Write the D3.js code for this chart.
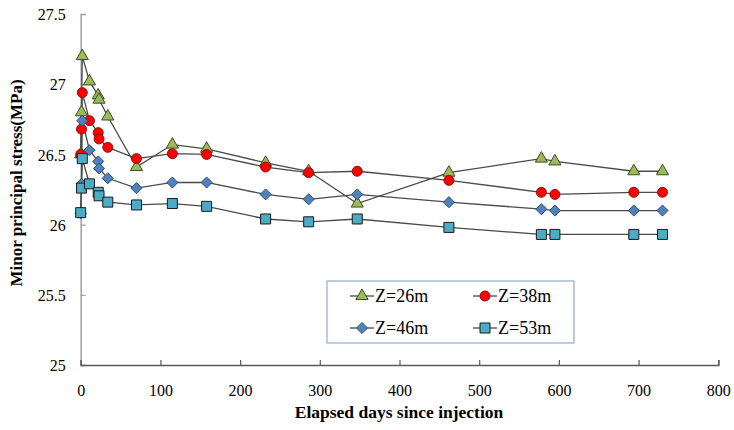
<!DOCTYPE html>
<html>
<head>
<meta charset="utf-8">
<script src="https://cdn.jsdelivr.net/npm/d3@7"></script>
<style>
  html, body { margin: 0; padding: 0; background: #ffffff; }
  svg { display: block; }
  svg text { font-family: "Liberation Serif", "Times New Roman", Times, serif; }
</style>
</head>
<body>
<svg id="chart" width="734" height="430"></svg>
<script>
// Elapsed days at each measurement
const days = [0, 1, 2, 11, 22, 23, 34, 70, 115, 158, 232, 286, 347, 462, 578, 595, 694, 730];

// Minor principal stress (MPa) at each depth
const z26 = [26.50, 26.80, 27.20, 27.02, 26.92, 26.89, 26.77, 26.41, 26.57, 26.54, 26.44, 26.38, 26.15, 26.37, 26.47, 26.45, 26.38, 26.38];
const z38 = [26.50, 26.68, 26.94, 26.74, 26.655, 26.61, 26.55, 26.47, 26.505, 26.50, 26.41, 26.37, 26.38, 26.315, 26.23, 26.215, 26.23, 26.23];
const z46 = [26.08, 26.29, 26.74, 26.53, 26.45, 26.40, 26.33, 26.26, 26.30, 26.30, 26.215, 26.18, 26.215, 26.16, 26.11, 26.10, 26.10, 26.10];
const z53 = [26.085, 26.26, 26.47, 26.29, 26.23, 26.205, 26.16, 26.14, 26.15, 26.13, 26.04, 26.02, 26.04, 25.98, 25.93, 25.93, 25.93, 25.93];

const seriesNames = ["Z=26m", "Z=38m", "Z=46m", "Z=53m"];
const xTicks = [0, 100, 200, 300, 400, 500, 600, 700, 800];
const yTicks = [25, 25.5, 26, 26.5, 27, 27.5];

const series = [
  { name: seriesNames[0], values: z26, symbol: d3.symbolTriangle, size: 64, fill: "#9bbb59", stroke: "#3f4a24" },
  { name: seriesNames[1], values: z38, symbol: d3.symbolCircle,   size: 78, fill: "#ff0000", stroke: "#8a1010" },
  { name: seriesNames[2], values: z46, symbol: d3.symbolDiamond2, size: 78, fill: "#4f81bd", stroke: "#2c4d75" },
  { name: seriesNames[3], values: z53, symbol: d3.symbolSquare,   size: 100, fill: "#4bacc6", stroke: "#1a1a1a" }
];

const serif = "'Liberation Serif', 'Times New Roman', Times, serif";
const svg = d3.select("#chart");
const plotLeft = 80.7, plotRight = 718.3, plotTop = 14, plotBottom = 365;

const x = d3.scaleLinear().domain([0, 800]).range([plotLeft, plotRight]);
const y = d3.scaleLinear().domain([25, 27.5]).range([plotBottom, plotTop]);

// Y axis: ticks point into the plot
const yAxis = svg.append("g")
  .attr("transform", `translate(${plotLeft},0)`)
  .call(d3.axisRight(y).tickValues(yTicks).tickSize(5).tickFormat(d3.format("")));
yAxis.select(".domain").attr("stroke", "#a0a0a0").attr("stroke-width", 1.5);
yAxis.selectAll(".tick line").attr("stroke", "#a0a0a0").attr("stroke-width", 1.2);
yAxis.selectAll(".tick text")
  .attr("x", -15).attr("text-anchor", "end").attr("dy", "0.35em")
  .attr("fill", "#000").style("font-size", "16px").style("font-family", serif);

// X axis: ticks point up
const xAxis = svg.append("g")
  .attr("transform", `translate(0,${plotBottom})`)
  .call(d3.axisTop(x).tickValues(xTicks).tickSize(5).tickFormat(d3.format("d")));
xAxis.select(".domain").attr("stroke", "#5a5a5a").attr("stroke-width", 1.5);
xAxis.selectAll(".tick line").attr("stroke", "#5a5a5a").attr("stroke-width", 1.2);
xAxis.selectAll(".tick text")
  .attr("y", 31).attr("dy", 0).attr("fill", "#000")
  .style("font-size", "16px").style("font-family", serif);

// Axis titles
svg.append("text")
  .attr("x", 399).attr("y", 418)
  .attr("text-anchor", "middle")
  .style("font-family", serif)
  .style("font-size", "17.5px").style("font-weight", "bold")
  .text("Elapsed days since injection");

svg.append("text")
  .attr("transform", "translate(22,183) rotate(-90)")
  .attr("text-anchor", "middle")
  .style("font-family", serif)
  .style("font-size", "17px").style("font-weight", "bold")
  .text("Minor principal stress(MPa)");

// Lines
const line = d3.line().x(d => x(d[0])).y(d => y(d[1]));
series.forEach(s => {
  const pts = days.map((d, i) => [d, s.values[i]]);
  svg.append("path")
    .datum(pts)
    .attr("d", line)
    .attr("fill", "none")
    .attr("stroke", "#4a4a4a")
    .attr("stroke-width", 1.3);
});

// Markers
series.forEach(s => {
  const sym = d3.symbol().type(s.symbol).size(s.size);
  svg.append("g").selectAll("path")
    .data(days.map((d, i) => [d, s.values[i]]))
    .join("path")
    .attr("d", sym)
    .attr("transform", d => `translate(${x(d[0])},${y(d[1])})`)
    .attr("fill", s.fill)
    .attr("stroke", s.stroke)
    .attr("stroke-width", 1);
});

// Legend
const legend = svg.append("g");
legend.append("rect")
  .attr("x", 327).attr("y", 281).attr("width", 247).attr("height", 62)
  .attr("fill", "#fff").attr("stroke", "#8eaad8").attr("stroke-width", 1.2);

const legendPos = [
  { lx: 350, ly: 296 }, { lx: 473, ly: 296 },
  { lx: 350, ly: 328 }, { lx: 473, ly: 328 }
];
series.forEach((s, i) => {
  const p = legendPos[i];
  const g = legend.append("g");
  g.append("line")
    .attr("x1", p.lx).attr("x2", p.lx + 24)
    .attr("y1", p.ly).attr("y2", p.ly)
    .attr("stroke", "#4a4a4a").attr("stroke-width", 1.3);
  g.append("path")
    .attr("d", d3.symbol().type(s.symbol).size(s.size)())
    .attr("transform", `translate(${p.lx + 12},${p.ly})`)
    .attr("fill", s.fill).attr("stroke", s.stroke).attr("stroke-width", 1);
  g.append("text")
    .attr("x", p.lx + 25).attr("y", p.ly).attr("dy", "0.35em")
    .style("font-family", serif)
    .style("font-size", "18px")
    .text(s.name);
});
</script>
</body>
</html>
